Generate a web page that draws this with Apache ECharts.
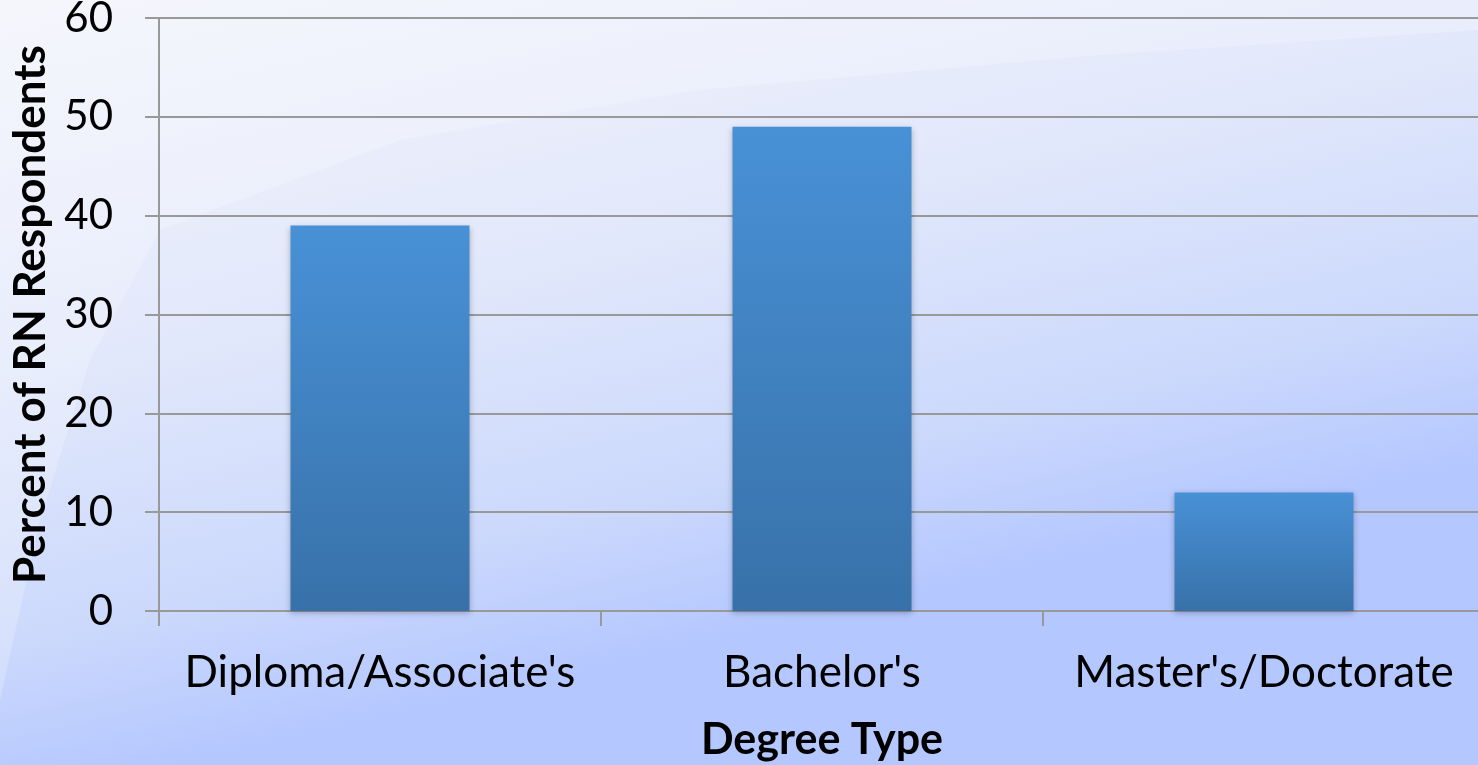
<!DOCTYPE html>
<html>
<head>
<meta charset="utf-8">
<script src="https://cdn.jsdelivr.net/npm/echarts@6/dist/echarts.min.js"></script>
<style>html,body{margin:0;padding:0;}#c{width:1478px;height:765px;}</style>
</head>
<body>
<div id="c"></div>
<script>
const categories = ["Diploma/Associate's", "Bachelor's", "Master's/Doctorate"];
const values = [39, 49, 12];
const yTicks = [0, 10, 20, 30, 40, 50, 60];

const chart = echarts.init(document.getElementById('c'));
const FONT = 'Lato';
chart.setOption({
  backgroundColor: new echarts.graphic.LinearGradient(0, 0, 0.12, 1, [
    {offset: 0, color: '#f3f4fb'},
    {offset: 0.45, color: '#e3e9fb'},
    {offset: 0.8, color: '#ccd9fc'},
    {offset: 1, color: '#b4c7ff'}
  ]),
  animation: false,
  graphic: [{
    type: 'polygon',
    silent: true,
    z: -10,
    shape: {points: [[0,0],[1478,0],[1478,30],[1100,55],[700,90],[400,140],[160,230],[90,360],[40,520],[0,700]]},
    style: {fill: 'rgba(255,255,255,0.22)'}
  }],
  grid: {left: 159, right: -7, top: 18, bottom: 154, containLabel: false, outerBoundsMode: 'none'},
  xAxis: {
    type: 'category',
    data: categories,
    name: 'Degree Type',
    nameLocation: 'middle',
    nameGap: 108,
    nameTextStyle: {fontFamily: FONT, fontWeight: 'bold', fontSize: 43, color: '#000'},
    axisLine: {lineStyle: {color: '#999', width: 2}},
    axisTick: {show: true, interval: 0, length: 15, lineStyle: {color: '#999', width: 2}},
    axisLabel: {fontFamily: FONT, fontSize: 44, color: '#000', margin: 40, interval: 0}
  },
  yAxis: {
    type: 'value',
    min: 0, max: 60, interval: 10,
    name: 'Percent of RN Respondents',
    nameLocation: 'middle',
    nameGap: 106,
    nameRotate: 90,
    nameTextStyle: {fontFamily: FONT, fontWeight: 'bold', fontSize: 44, color: '#000'},
    axisLine: {show: true, lineStyle: {color: '#999', width: 2}},
    axisTick: {show: true, length: 14, lineStyle: {color: '#999', width: 2}},
    axisLabel: {fontFamily: FONT, fontSize: 42, color: '#000', margin: 46,
      formatter: v => yTicks.includes(v) ? String(v) : ''},
    splitLine: {lineStyle: {color: '#999', width: 2}}
  },
  series: [{
    type: 'bar',
    data: values,
    barWidth: '40.5%',
    itemStyle: {
      color: new echarts.graphic.LinearGradient(0, 0, 0, 1, [
        {offset: 0, color: '#4891d6'},
        {offset: 1, color: '#3871a9'}
      ]),
      shadowColor: 'rgba(0,0,0,0.25)',
      shadowBlur: 6,
      shadowOffsetY: 2
    }
  }]
});
</script>
</body>
</html>
